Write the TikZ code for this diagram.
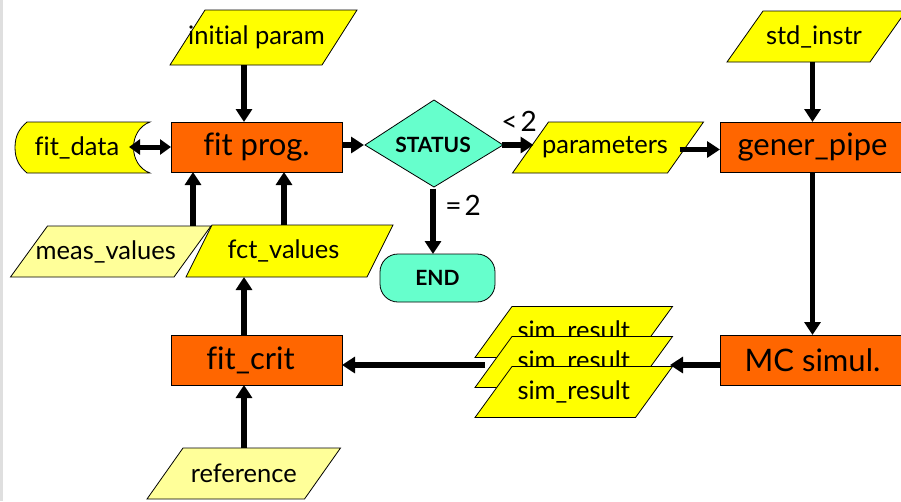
\documentclass[tikz,border=0pt]{standalone}
\usepackage{fontspec}
\setmainfont{Lato}[Ligatures={NoCommon}]
\usetikzlibrary{arrows.meta,calc}
\definecolor{orng}{HTML}{FF6600}
\definecolor{ylw}{HTML}{FFFF00}
\definecolor{lylw}{HTML}{FFFF99}
\definecolor{teal}{HTML}{66FFCC}
\tikzset{
  outl/.style={draw=black,line width=0.8pt},
  procbox/.style={outl,fill=orng,inner sep=0pt,outer sep=0pt,font=\fontsize{31}{34}\selectfont},
  txtbox/.style={inner sep=0pt,outer sep=0pt,font=\fontsize{25.5}{28}\selectfont},
  arr/.style={line width=5.5pt,-{Triangle[width=16pt,length=13pt]}},
  darr/.style={line width=5pt,{Triangle[width=15pt,length=11pt]}-{Triangle[width=15pt,length=11pt]}},
  lbl/.style={font=\fontsize{28}{30}\selectfont,inner sep=0pt},
  tealtxt/.style={font=\bfseries\fontsize{21}{24}\selectfont}
}
% name, cx, cy, w, h, s, fill, text
\newcommand\pgram[8]{%
  \draw[outl,fill=#7] ({#2-#4/2+#6},{#3-#5/2}) -- ({#2+#4/2+#6},{#3-#5/2}) -- ({#2+#4/2-#6},{#3+#5/2}) -- ({#2-#4/2-#6},{#3+#5/2}) -- cycle;
  \node[txtbox,minimum width=#4pt,minimum height=#5pt] (#1) at (#2,#3) {#8};}
\begin{document}
\begin{tikzpicture}[x=1pt,y=-1pt]
\useasboundingbox (0,0) rectangle (901,501);
\fill[gray!25] (0,0) rectangle (3,501);
\clip (0,0) rectangle (901,501);
\coordinate (ax) at (244,0);
\coordinate (mx) at (193,0);
\coordinate (fx) at (284,0);

% process boxes
\node[procbox,minimum width=171pt,minimum height=50pt] (fitprog) at (256.5,147) {fit prog.};
\node[procbox,minimum width=185pt,minimum height=50pt] (genpipe) at (812.5,147) {gener\_pipe};
\node[procbox,minimum width=185pt,minimum height=50pt] (mcsim) at (812.5,360) {MC simul.};
\node[procbox,minimum width=171pt,minimum height=50pt] (fitcrit) at (256.5,360) {\hspace*{-12pt}fit\_crit};

% fit_data stored data shape
\draw[outl,fill=ylw] (150,122) -- (27,122) .. controls (20,128) and (15,135) .. (15,147.5)
  .. controls (15,160) and (20,167) .. (27,173) -- (150,173)
  .. controls (128,165) and (128,130) .. cycle;
\node[txtbox,minimum width=100pt,minimum height=51pt] (fitdata) at (77,147.5) {fit\_data};
\coordinate (fdr) at (129,147);

% diamond
\draw[outl,fill=teal] (365,145) -- (434,100) -- (503,145) -- (434,187) -- cycle;
\node[tealtxt,inner sep=0pt,outer sep=0pt,minimum width=138pt,minimum height=87pt] (status) at (433,145) {STATUS};

% END
\node[outl,fill=teal,rounded corners=18pt,minimum width=115pt,minimum height=48pt,inner sep=0pt,outer sep=0pt,tealtxt] (endn) at (437.5,278) {END};

% parallelograms
\pgram{initp}{263.5}{37.5}{152}{55}{17.5}{ylw}{\hspace*{-14pt}initial param}
\pgram{params}{608}{147.5}{155}{51}{18}{ylw}{\hspace*{-6pt}parameters}
\pgram{stdin}{816.5}{36.5}{143}{51}{18}{ylw}{\hspace*{-5pt}std\_instr}
\pgram{meas}{110.75}{251.5}{163.5}{51}{18.5}{lylw}{\hspace*{-10pt}meas\_values}
\pgram{fct}{289.5}{251}{181}{52}{13}{ylw}{\hspace*{-12pt}fct\_values}
\pgram{ref}{243.75}{473.5}{157.5}{51}{18}{lylw}{reference}

% connectors
\draw[darr] (fdr) -- (fitprog.west |- fdr);
\draw[arr] (initp.south -| ax) -- (fitprog.north -| ax);
\draw[arr] (meas.north -| mx) -- (fitprog.south -| mx);
\draw[arr] (fct.north -| fx) -- (fitprog.south -| fx);
\draw[arr] (fitprog.east |- status) -- (status.west);
\draw[arr] (status.east) -- ($(params.west |- status)+(3,0)$);
\draw[arr] ($(params.east)+(-6,2)$) -- (genpipe.west |- 0,149.5);
\draw[arr] (status.south) -- (endn.north -| status);
\draw[arr] (stdin.south -| genpipe) -- (genpipe.north);
\draw[arr] (genpipe.south) -- (mcsim.north);
\draw[arr] (fitcrit.north -| ax) -- (fct.south -| ax);
\draw[arr] (ref.north -| ax) -- (fitcrit.south -| ax);

% sim_result stack
\coordinate (simtail) at (485,365);
\coordinate (simin) at (670,365);
\draw[arr] (simtail) -- (fitcrit.east |- simtail);
\pgram{simA}{573.75}{332}{160.5}{51}{18.5}{ylw}{sim\_result}
\pgram{simB}{573.75}{362}{160.5}{51}{18.5}{ylw}{sim\_result}
\pgram{simC}{573.75}{392}{160.5}{51}{18.5}{ylw}{sim\_result}
\draw[arr] (mcsim.west |- simin) -- (simin);

% labels
\node[lbl] (lt) at (519,121) {<\kern3pt 2};
\node[lbl] (eq) at (463,205) {=\kern3pt 2};
\end{tikzpicture}
\end{document}
